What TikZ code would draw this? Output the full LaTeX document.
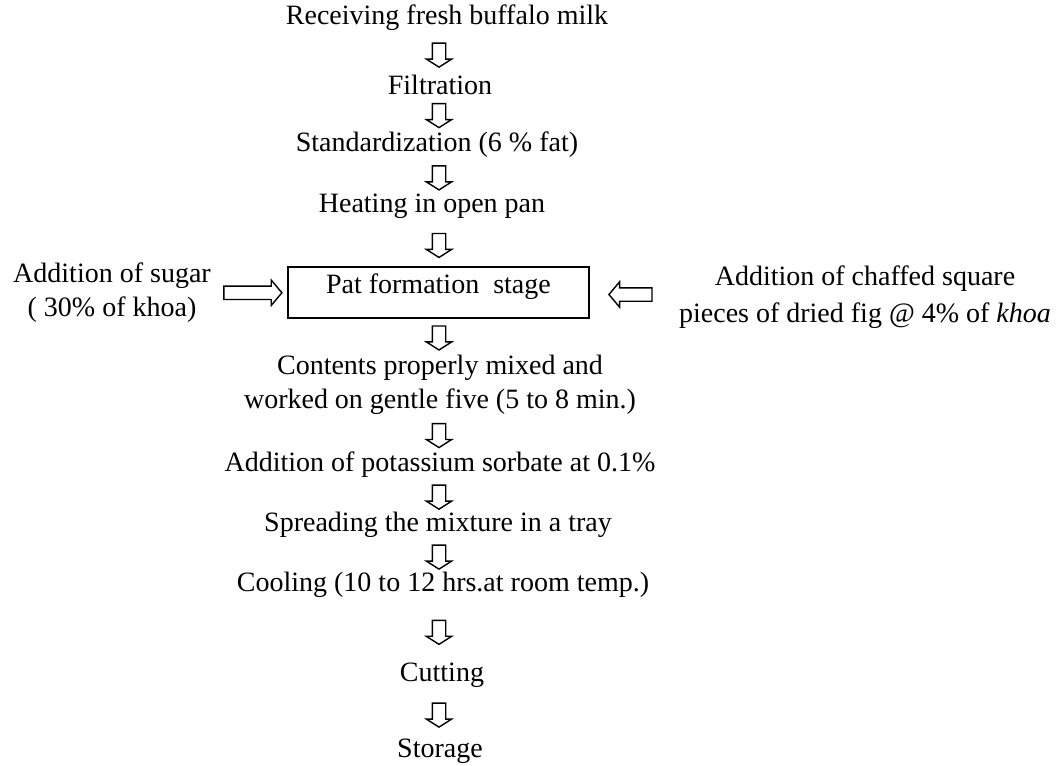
\documentclass[tikz,border=0pt]{standalone}
\usepackage{fontspec}
\setmainfont{Liberation Serif}
\usetikzlibrary{shapes.arrows}
\tikzstyle{stage}=[align=center, inner sep=1pt]
\tikzstyle{patbox}=[draw, line width=0.9pt, align=center, inner xsep=0pt, inner ysep=0pt, minimum width=150.5pt, text height=13.5pt, text depth=12pt]
\tikzstyle{down}=[single arrow, draw, line width=0.7pt, fill=white, shape border rotate=270, inner sep=3pt, single arrow head extend=3pt, single arrow tip angle=115, single arrow head indent=0pt, minimum height=12pt]
\tikzstyle{side}=[single arrow, draw, line width=0.7pt, fill=white, inner sep=3pt, single arrow head extend=3pt, single arrow tip angle=100, single arrow head indent=0pt]

\begin{document}
\begin{tikzpicture}[x=0.5pt,y=-0.5pt,font=\rmfamily\fontsize{14}{17}\selectfont]
    \useasboundingbox (0,0) rectangle (1061,766);
    \coordinate (ax) at (439,0);
    \node [stage] (r1) at (447,18) {Receiving fresh buffalo milk};
    \node [stage] (r2) at (440,85) {Filtration};
    \node [stage] (r3) at (437,145) {Standardization (6 \% fat)};
    \node [stage] (r4) at (432,206) {Heating in open pan};
    \node [patbox,anchor=north west] (pat) at (287,266) {Pat formation\ \ stage};
    \node [stage] (sugar) at (112,293) {Addition of sugar\\( 30\% of khoa)};
    \node [stage,font=\rmfamily\fontsize{14}{18.5}\selectfont] (fig) at (865,297) {Addition of chaffed square\\pieces of dried fig @ 4\% of \textit{khoa}};
    \node [stage] (r5) at (440,385) {Contents properly mixed and\\worked on gentle five (5 to 8 min.)};
    \node [stage] (r6) at (440,465) {Addition of potassium sorbate at 0.1\%};
    \node [stage] (r7) at (438,525) {Spreading the mixture in a tray};
    \node [stage] (r8) at (443,585) {Cooling (10 to 12 hrs.at room temp.)};
    \node [stage] (r9) at (442,675) {Cutting};
    \node [stage] (r10) at (440,751) {Storage};
    % flow down the middle
    \foreach \a/\b in {r1/r2,r2/r3,r3/r4,r4/pat,pat/r5,r5/r6,r6/r7,r7/r8,r8/r9,r9/r10}
        \path (\a.south -| ax) -- node[down] {} (\b.north -| ax);
    % additions from the sides
    \path (sugar) -- node[side,minimum height=29pt] {} (pat);
    \path (fig) -- node[side,minimum height=21.5pt,shape border rotate=180] {} (pat);
\end{tikzpicture}
\end{document}
